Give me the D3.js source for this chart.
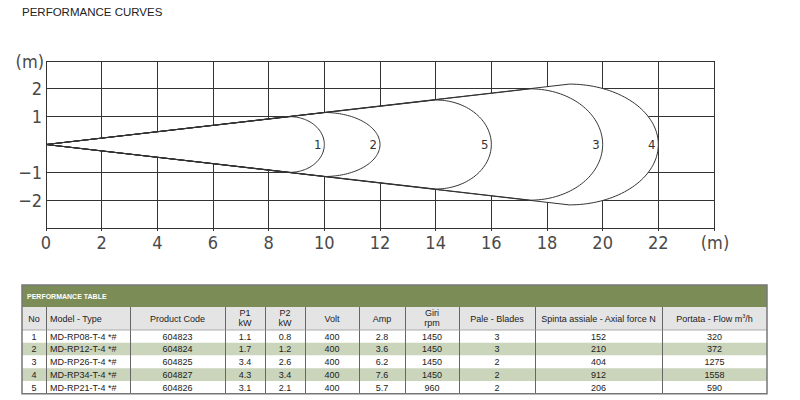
<!DOCTYPE html>
<html>
<head>
<meta charset="utf-8">
<script src="https://cdn.jsdelivr.net/npm/d3@7"></script>
<style>
  html, body { margin: 0; padding: 0; background: #fff; }
  svg { display: block; }
</style>
</head>
<body>
<svg id="chart" width="800" height="400"></svg>
<script>
// ---------- chart data ----------
const curveIds   = ["1", "2", "5", "3", "4"];
const curveTopX  = [8.76, 10, 14, 17.4, 18.8];   // m, where curve leaves the cone line
const curveTopY  = [1.0, 1.15, 1.6, 2.0, 2.17];  // m, half height of curve
const curveTipX  = [10, 12, 16, 20, 22];          // m, farthest reach
const xTicks = [0, 2, 4, 6, 8, 10, 12, 14, 16, 18, 20, 22];
const xGrid  = [0, 2, 4, 6, 8, 10, 12, 14, 16, 18, 20, 22, 24];
const yTicks = [2, 1, -1, -2];
const yGrid  = [3, 2, 1, -1, -2, -3];

// ---------- table data ----------
const tableTitle = "PERFORMANCE TABLE";
const colHeaders = [["No"], ["Model - Type"], ["Product Code"], ["P1", "kW"], ["P2", "kW"], ["Volt"], ["Amp"],
                    ["Giri", "rpm"], ["Pale - Blades"], ["Spinta assiale - Axial force N"], ["Portata - Flow m³/h"]];
const rowNo    = ["1", "2", "3", "4", "5"];
const models   = ["MD-RP08-T-4 *#", "MD-RP12-T-4 *#", "MD-RP26-T-4 *#", "MD-RP34-T-4 *#", "MD-RP21-T-4 *#"];
const codes    = ["604823", "604824", "604825", "604827", "604826"];
const p1       = ["1.1", "1.7", "3.4", "4.3", "3.1"];
const p2       = ["0.8", "1.2", "2.6", "3.4", "2.1"];
const volt     = ["400", "400", "400", "400", "400"];
const amp      = ["2.8", "3.6", "6.2", "7.6", "5.7"];
const rpm      = ["1450", "1450", "1450", "1450", "960"];
const blades   = ["3", "3", "2", "2", "2"];
const axial    = ["152", "210", "404", "912", "206"];
const flow     = ["320", "372", "1275", "1558", "590"];

const svg = d3.select("#chart");

// Title
svg.append("text").attr("x", 22).attr("y", 15.5)
  .attr("font-family", "Arial, 'Liberation Sans', sans-serif").attr("font-size", 11.5)
  .attr("fill", "#222").text("PERFORMANCE CURVES");

// ---------- chart ----------
const x = d3.scaleLinear().domain([0, 24]).range([46, 714]);
const y = d3.scaleLinear().domain([-3, 3]).range([228, 61]);
const ink = "#333";
const tickFont = "'Liberation Sans Narrow', 'DejaVu Sans Condensed', sans-serif";

const g = svg.append("g");
// grid
g.selectAll(".vg").data(xGrid).join("line")
  .attr("x1", d => x(d)).attr("x2", d => x(d))
  .attr("y1", y(3)).attr("y2", y(-3) + 3)
  .attr("stroke", ink).attr("stroke-width", 1).attr("shape-rendering", "crispEdges");
g.selectAll(".hg").data(yGrid).join("line")
  .attr("x1", x(0)).attr("x2", x(24))
  .attr("y1", d => y(d)).attr("y2", d => y(d))
  .attr("stroke", ink).attr("stroke-width", 1).attr("shape-rendering", "crispEdges");

// curves
const curves = curveIds.map((id, i) => ({ id, tx: curveTopX[i], ty: curveTopY[i], tip: curveTipX[i] }));
function curvePoints(c) {
  const pts = [[0, 0], [c.tx, c.ty]];
  const n = 80;
  for (let k = 1; k < n; k++) {
    const t = Math.PI * k / n;
    pts.push([c.tx + (c.tip - c.tx) * Math.sin(t), c.ty * Math.cos(t)]);
  }
  pts.push([c.tx, -c.ty], [0, 0]);
  return pts;
}
const line = d3.line().x(d => x(d[0])).y(d => y(d[1])).curve(d3.curveLinear);
// white fill of the outer envelope hides the grid inside
const sorted = curves.slice().sort((a, b) => b.tip - a.tip);
g.selectAll(".cfill").data(sorted).join("path")
  .attr("d", d => line(curvePoints(d))).attr("fill", "#fff").attr("stroke", "none");
g.selectAll(".cline").data(curves).join("path")
  .attr("d", d => line(curvePoints(d))).attr("fill", "none")
  .attr("stroke", ink).attr("stroke-width", 1).attr("stroke-linejoin", "round");
g.selectAll(".clab").data(curves).join("text")
  .attr("x", d => x(d.tip) - 3).attr("y", y(0) + 4.5)
  .attr("text-anchor", "end").attr("font-family", tickFont).attr("font-size", 13)
  .attr("fill", "#333").text(d => d.id);

// axes labels
const lab = "#4a4a4a";
g.selectAll(".xt").data(xTicks).join("text")
  .attr("x", d => x(d)).attr("y", y(-3) + 21)
  .attr("text-anchor", "middle").attr("font-family", tickFont).attr("font-size", 18)
  .attr("fill", lab).text(d => d);
g.append("text").attr("x", x(24) + 1).attr("y", y(-3) + 21)
  .attr("text-anchor", "middle").attr("font-family", tickFont).attr("font-size", 18)
  .attr("fill", lab).text("(m)");
g.selectAll(".yt").data(yTicks).join("text")
  .attr("x", x(0) - 4).attr("y", d => y(d) + 6.5)
  .attr("text-anchor", "end").attr("font-family", tickFont).attr("font-size", 18)
  .attr("fill", lab).text(d => d < 0 ? "\u2212" + Math.abs(d) : d);
g.append("text").attr("x", x(0) - 2).attr("y", y(3) + 6.5)
  .attr("text-anchor", "end").attr("font-family", tickFont).attr("font-size", 18)
  .attr("fill", lab).text("(m)");

// ---------- table ----------
const colEdges = [22, 46, 130, 225, 265, 305, 359, 405, 459, 535, 662, 767];
const tTop = 285, bandH = 22, headH = 23, rowH = 12.75;
const tFont = "Arial, 'Liberation Sans', sans-serif";
const fs = 9;
const rows = rowNo.map((n, i) => [n, models[i], codes[i], p1[i], p2[i], volt[i], amp[i], rpm[i], blades[i], axial[i], flow[i]]);
const tg = svg.append("g");
const tW = colEdges[colEdges.length - 1] - colEdges[0];
const headTop = tTop + bandH, dataTop = headTop + headH;
const tBottom = dataTop + rowH * rows.length;

tg.append("rect").attr("x", colEdges[0]).attr("y", tTop).attr("width", tW).attr("height", bandH).attr("fill", "#7b8c57");
tg.append("text").attr("x", 27).attr("y", tTop + 14).attr("font-family", tFont).attr("font-size", 7)
  .attr("font-weight", "bold").attr("fill", "#fff").text(tableTitle);
tg.append("rect").attr("x", colEdges[0]).attr("y", headTop).attr("width", tW).attr("height", headH).attr("fill", "#e4e4e4");
tg.selectAll(".rowbg").data(rows).join("rect")
  .attr("x", colEdges[0]).attr("y", (d, i) => dataTop + i * rowH).attr("width", tW).attr("height", rowH)
  .attr("fill", (d, i) => i % 2 === 1 ? "#cad5bc" : "#fff");
// vertical separators
tg.selectAll(".vsep").data(colEdges.slice(1, -1)).join("line")
  .attr("x1", d => d).attr("x2", d => d).attr("y1", headTop).attr("y2", tBottom)
  .attr("stroke", "#666").attr("stroke-width", 1).attr("shape-rendering", "crispEdges");
tg.append("line").attr("x1", colEdges[0]).attr("x2", colEdges[colEdges.length - 1])
  .attr("y1", dataTop).attr("y2", dataTop).attr("stroke", "#999").attr("stroke-width", 0.8);
tg.append("rect").attr("x", colEdges[0]).attr("y", tTop).attr("width", tW).attr("height", tBottom - tTop)
  .attr("fill", "none").attr("stroke", "#777").attr("stroke-width", 1.5);

// headers
colHeaders.forEach((h, c) => {
  const left = c === 1;
  const cx = left ? colEdges[c] + 4 : (colEdges[c] + colEdges[c + 1]) / 2;
  const lines = h.length;
  h.forEach((t, k) => {
    const yy = lines === 1 ? headTop + headH / 2 + 3.3 : headTop + 9 + k * 10;
    const txt = tg.append("text").attr("x", cx).attr("y", yy)
      .attr("text-anchor", left ? "start" : "middle").attr("font-family", tFont)
      .attr("font-size", fs).attr("fill", "#222");
    if (t.includes("³")) {
      const [a, b] = t.split("³");
      txt.append("tspan").text(a);
      txt.append("tspan").attr("font-size", 5.5).attr("dy", -3.5).text("3");
      txt.append("tspan").attr("dy", 3.5).text(b);
    } else txt.text(t);
  });
});
// cells
rows.forEach((r, i) => {
  r.forEach((v, c) => {
    const left = c === 1;
    tg.append("text")
      .attr("x", left ? colEdges[c] + 4 : (colEdges[c] + colEdges[c + 1]) / 2)
      .attr("y", dataTop + i * rowH + rowH / 2 + 3.2)
      .attr("text-anchor", left ? "start" : "middle").attr("font-family", tFont)
      .attr("font-size", fs).attr("fill", "#222").text(v);
  });
});
</script>
</body>
</html>
